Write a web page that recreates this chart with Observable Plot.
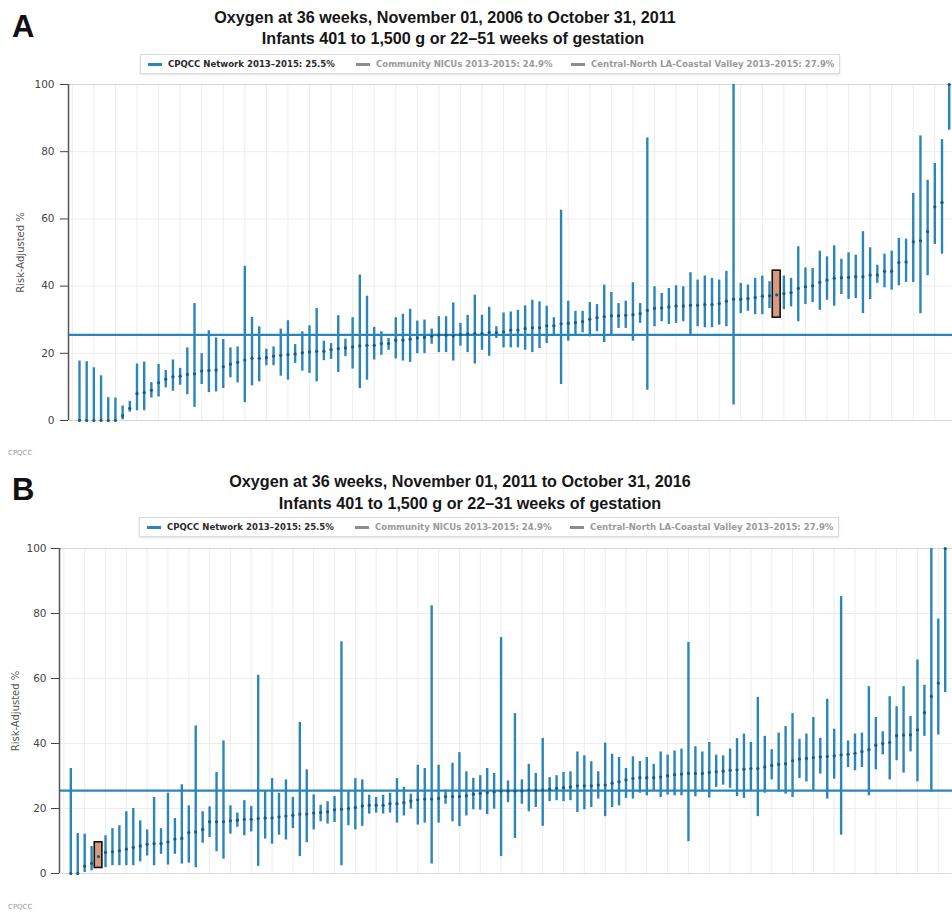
<!DOCTYPE html>
<html><head><meta charset="utf-8">
<script src="https://cdn.jsdelivr.net/npm/d3@7"></script>
<script src="https://cdn.jsdelivr.net/npm/@observablehq/plot@0.6"></script>
<style>
body{margin:0;background:#fff}
#root{position:relative;width:952px;height:912px;overflow:hidden;background:#fff;font-family:"Liberation Sans",Arial,sans-serif}
.letter{position:absolute;font-weight:bold;font-size:31px;color:#111;line-height:1;font-family:"Liberation Sans",Arial,sans-serif}
.tl{position:absolute;transform:translateX(-50%) scaleX(0.95);white-space:nowrap;font-family:"Liberation Sans",Arial,sans-serif;font-weight:bold;font-size:17px;color:#161616;line-height:1}
.legend{position:absolute;border:1px solid #dcdcdc;height:18px;box-shadow:0 1px 2px rgba(0,0,0,.12);background:#fff}
.li{position:absolute;top:4px;white-space:nowrap;font-family:"DejaVu Sans Condensed","DejaVu Sans",sans-serif;font-weight:bold;font-size:9.5px;line-height:1}
.dash{position:absolute;top:8px;height:2.5px;width:14px}
.cpqcc{position:absolute;font-size:7px;color:#9a9a9a;font-family:"DejaVu Sans",sans-serif}
.svgwrap{position:absolute;left:0}
</style></head>
<body>
<div id="root">
  <div class="letter" style="left:12px;top:11px">A</div>
  <div class="tl" style="left:445px;top:9px">Oxygen at 36 weeks, November 01, 2006 to October 31, 2011</div>
  <div class="tl" style="left:453px;top:30px">Infants 401 to 1,500 g or 22–51 weeks of gestation</div>
  <div class="legend" style="left:140px;top:54px;width:698px" id="legA"></div>
  <div class="svgwrap" id="plotA" style="top:78px"></div>
  <div class="cpqcc" style="left:8px;top:449px">CPQCC</div>

  <div class="letter" style="left:12px;top:474px">B</div>
  <div class="tl" style="left:460px;top:473px">Oxygen at 36 weeks, November 01, 2011 to October 31, 2016</div>
  <div class="tl" style="left:470px;top:495px">Infants 401 to 1,500 g or 22–31 weeks of gestation</div>
  <div class="legend" style="left:139px;top:517px;width:698px" id="legB"></div>
  <div class="svgwrap" id="plotB" style="top:540px"></div>
  <div class="cpqcc" style="left:8px;top:903px">CPQCC</div>
</div>
<script>
// ---------- Data ----------
const refValue = 25.5;
const legendLabels = ["CPQCC Network 2013–2015: 25.5%", "Community NICUs 2013-2015: 24.9%", "Central-North LA-Coastal Valley 2013–2015: 27.9%"];
const yTicks = [0, 20, 40, 60, 80, 100];
const yLabel = "Risk-Adjusted %";

// Panel A: risk-adjusted % (point), lower and upper limits, sorted hospitals
const aMid = [0,0,0,0,0,0,1.4,3.6,8.0,8.3,9.0,11.3,12.3,13.0,13.2,13.7,13.9,14.7,14.9,15.0,
  16.0,16.8,17.3,18.0,18.5,18.5,18.7,19.2,19.4,19.6,19.8,20.2,20.4,20.6,20.6,21.1,21.4,21.6,21.9,22.2,
  22.4,22.4,22.9,22.9,23.9,23.9,24.2,24.6,24.8,25.1,25.4,25.4,25.2,25.6,25.7,25.9,25.9,26.2,26.1,26.4,
  26.9,26.9,27.4,27.6,27.6,28.2,28.2,28.8,28.9,29.1,29.4,30.1,30.6,30.9,31.2,31.2,31.3,31.5,31.8,32.8,
  33.4,33.5,33.8,34.1,34.1,34.3,34.3,34.5,34.5,34.8,35.5,36.1,36.1,36.3,36.6,37.0,37.1,37.4,37.8,38.1,
  39.3,39.8,40.1,41.1,41.8,42.3,42.5,42.6,42.8,42.8,43.3,43.3,44.4,44.4,47.0,47.2,53.2,53.5,56.2,63.6,
  64.9,100];
const aLo = [0,0,0,0,0,0,0.2,2.5,2.9,2.9,6.7,7.0,9.7,8.7,10.5,7.7,3.9,10.7,8.3,8.5,
  9.5,12.7,11.2,5.3,10.3,11.5,16.3,16.3,13.2,12.0,17.0,14.7,14.0,11.5,17.8,18.2,14.3,19.0,15.3,9.5,
  12.0,18.0,19.4,20.9,18.3,17.7,17.3,19.9,19.9,22.7,20.2,20.2,17.7,22.1,20.2,16.8,20.9,19.1,24.4,21.6,
  21.6,21.6,20.9,20.2,21.4,22.9,25.4,10.7,23.6,25.4,26.1,24.9,26.4,23.2,25.1,27.4,27.4,23.6,28.9,9.0,
  27.9,29.4,28.6,28.9,29.4,25.6,27.9,27.6,27.6,28.4,27.9,4.6,31.8,32.5,31.5,31.5,33.3,30.6,33.0,33.8,
  29.4,34.5,35.1,32.8,35.8,34.0,37.5,36.0,36.3,31.8,36.0,40.8,39.5,38.8,40.1,41.1,41.1,31.8,43.1,52.4,
  49.5,86.4];
const aHi = [17.7,17.5,15.7,13.3,6.8,6.7,4.3,5.7,16.8,17.4,11.3,16.7,14.9,18.0,15.5,21.6,34.8,19.9,26.7,24.6,
  24.1,21.6,21.9,45.9,30.7,27.9,21.2,21.9,27.2,29.7,22.6,26.4,28.2,33.3,23.6,22.9,31.2,24.2,30.6,43.3,
  37.0,27.7,26.4,24.4,30.6,31.6,33.1,29.6,29.9,27.2,30.9,30.9,35.0,28.9,31.3,37.3,31.3,33.7,27.9,32.0,
  32.3,32.8,34.1,35.8,35.3,34.0,30.6,62.6,35.5,32.5,32.5,35.1,34.5,40.3,38.1,34.8,35.5,41.0,34.8,84.1,
  39.8,37.8,39.3,40.1,39.8,44.0,41.8,43.0,42.3,41.8,44.4,100,40.8,40.3,42.3,43.0,41.3,44.6,43.0,42.3,
  51.7,45.4,45.2,50.4,48.7,52.0,48.0,49.9,49.2,56.2,51.4,46.2,49.5,50.4,54.2,54.0,67.6,84.7,71.5,76.5,
  83.6,100];
const aHighlight = 97; // highlighted hospital (index in sorted order)

// Panel B
const bMid = [0,0,2.3,3.1,5.2,6.5,6.7,7.0,7.5,8.0,8.5,9.0,9.2,9.2,9.7,10.6,10.8,12.6,12.8,13.6,
  15.9,15.9,15.9,16.2,16.4,16.7,16.7,16.9,17.1,17.1,17.4,17.7,17.9,18.3,18.3,18.6,18.8,19.0,19.6,19.8,
  20.0,20.3,20.8,21.0,21.0,21.0,21.5,21.5,21.8,22.3,22.7,22.9,22.9,23.1,23.7,23.7,23.7,23.9,24.4,24.7,
  24.9,25.1,25.4,25.4,25.4,25.4,25.7,25.6,25.7,25.9,26.2,26.4,26.7,27.0,27.0,27.0,27.2,27.2,27.8,28.2,
  28.8,29.2,29.5,29.5,29.5,29.7,30.1,30.4,30.6,30.8,30.8,30.8,31.1,31.3,31.5,31.8,31.9,32.1,32.3,32.3,
  32.8,33.3,33.6,33.8,34.7,35.2,35.4,35.7,35.9,36.0,36.2,36.5,36.7,37.0,37.5,38.1,39.5,40.0,40.3,42.4,
  42.6,42.7,44.2,49.5,54.5,58.6,100];
const bLo = [0,0,0.3,0.8,1.7,1.8,2.4,2.4,2.4,2.4,3.6,5.4,2.4,5.9,2.6,5.9,2.9,3.2,1.8,9.3,
  11.1,6.7,4.4,12.1,14.2,11.6,12.8,2.2,10.6,9.0,11.8,10.3,13.8,5.2,9.5,13.4,15.9,15.2,15.7,2.4,
  14.7,13.4,14.5,18.3,18.6,18.3,18.6,15.5,17.7,19.8,14.9,15.5,2.9,15.5,21.3,15.9,14.4,17.7,19.6,19.5,
  18.1,19.8,5.2,21.8,10.8,21.3,19.0,20.3,14.5,22.1,22.4,22.1,22.4,18.8,19.6,20.3,22.9,17.5,20.3,20.8,
  23.1,22.9,24.7,23.9,25.4,23.4,24.1,23.9,23.9,9.8,23.6,25.1,23.2,26.5,27.2,26.2,23.7,23.1,25.4,17.5,
  24.7,28.8,25.1,24.4,23.4,29.2,28.2,25.4,30.6,22.9,29.0,11.8,32.6,31.6,32.6,23.9,31.9,36.5,28.8,34.7,
  30.9,37.4,28.2,42.2,25.1,42.6,55.7];
const bHi = [32.3,12.3,12.1,8.3,9.6,11.6,13.8,14.7,19.0,20.0,16.2,13.4,23.4,13.8,24.7,16.9,27.3,20.8,45.4,19.0,
  20.5,31.1,40.8,20.8,18.6,22.4,20.6,61.0,25.4,29.2,24.7,28.8,23.4,46.5,31.9,24.2,21.0,22.1,23.7,71.3,
  25.4,29.2,28.8,24.1,23.4,24.1,24.7,29.2,26.5,24.4,33.3,32.3,82.4,33.3,25.7,33.9,37.2,31.3,29.3,30.1,
  32.3,30.8,72.6,28.5,49.2,28.8,33.6,30.8,41.6,29.5,30.1,31.1,31.3,37.4,36.2,34.4,31.3,40.1,36.7,35.7,
  32.3,35.9,34.5,35.7,33.6,37.4,36.4,37.7,38.3,71.1,39.0,37.4,40.3,36.4,36.2,38.3,41.5,42.9,40.3,54.2,
  42.2,38.1,43.2,45.2,49.2,41.3,42.9,48.0,41.6,53.6,44.4,85.2,40.8,42.9,43.2,57.5,48.0,43.6,54.4,51.3,
  57.5,48.3,65.7,57.9,100,78.3,100];
const bHighlight = 4;

// ---------- Styles ----------
const blue = "#2a86b8";
const dotBlue = "#17597f";
const gridColor = "#ededed";

function legend(id) {
  const el = document.getElementById(id);
  const pos = [[7, 27], [215, 235], [430, 450]];
  const colors = [[blue, "#2b2b2b"], ["#8c8c8c", "#9a9a9a"], ["#8c8c8c", "#9a9a9a"]];
  legendLabels.forEach((t, k) => {
    const d = document.createElement("div");
    d.className = "dash"; d.style.left = pos[k][0] + "px"; d.style.background = colors[k][0];
    el.appendChild(d);
    const s = document.createElement("div");
    s.className = "li"; s.style.left = pos[k][1] + "px"; s.style.color = colors[k][1];
    s.textContent = t;
    el.appendChild(s);
  });
}
legend("legA"); legend("legB");

function panel({mid, lo, hi, hl, height, mTop, mBottom, mLeft, xDomain, labelDx, tickPadding}) {
  const data = mid.map((m, i) => ({i, mid: m, lo: lo[i], hi: hi[i]}));
  const gridIdx = d3.range(-1, data.length + 1, 3);
  return Plot.plot({
    width: 952, height,
    marginTop: mTop, marginBottom: mBottom, marginLeft: mLeft, marginRight: 0,
    style: {fontFamily: "'DejaVu Sans', sans-serif", fontSize: "10.5px", color: "#444", background: "transparent"},
    x: {domain: xDomain, axis: null},
    y: {domain: [0, 100], ticks: yTicks, tickSize: 8, tickPadding, label: null},
    marks: [
      Plot.gridY(yTicks.slice(1, -1), {stroke: gridColor, strokeOpacity: 1}),
      Plot.ruleX(gridIdx, {stroke: gridColor, strokeWidth: 1}),
      Plot.ruleY([100], {stroke: "#d9d9d9"}),
      Plot.ruleY([0], {stroke: "#d9d9d9"}),
      Plot.ruleY([refValue], {stroke: blue, strokeWidth: 2.2}),
      Plot.ruleX(data, {x: "i", y1: "lo", y2: "hi", stroke: blue, strokeWidth: 2.4}),
      Plot.rect([data[hl]], {x1: d => d.i - 0.55, x2: d => d.i + 0.55, y1: "lo", y2: "hi", fill: "#d59a7f", stroke: "#111", strokeWidth: 1.6}),
      Plot.dot(data, {x: "i", y: "mid", r: 1.6, fill: dotBlue, stroke: "none"}),
      Plot.ruleX([xDomain[0]], {stroke: "#555", strokeWidth: 1.5}),
      Plot.text([yLabel], {frameAnchor: "left", rotate: -90, dx: labelDx, textAnchor: "middle", fill: "#555", fontSize: 10})
    ]
  });
}

document.getElementById("plotA").appendChild(panel({
  mid: aMid, lo: aLo, hi: aHi, hl: aHighlight, height: 350, mTop: 6, mBottom: 8, mLeft: 68,
  xDomain: [-1.53, aMid.length - 1 + 0.46], labelDx: -48, tickPadding: 6
}));
document.getElementById("plotB").appendChild(panel({
  mid: bMid, lo: bLo, hi: bHi, hl: bHighlight, height: 342, mTop: 8, mBottom: 9, mLeft: 59,
  xDomain: [-1.63, bMid.length - 1 + 1.05], labelDx: -44, tickPadding: 5
}));
</script>
</body></html>
